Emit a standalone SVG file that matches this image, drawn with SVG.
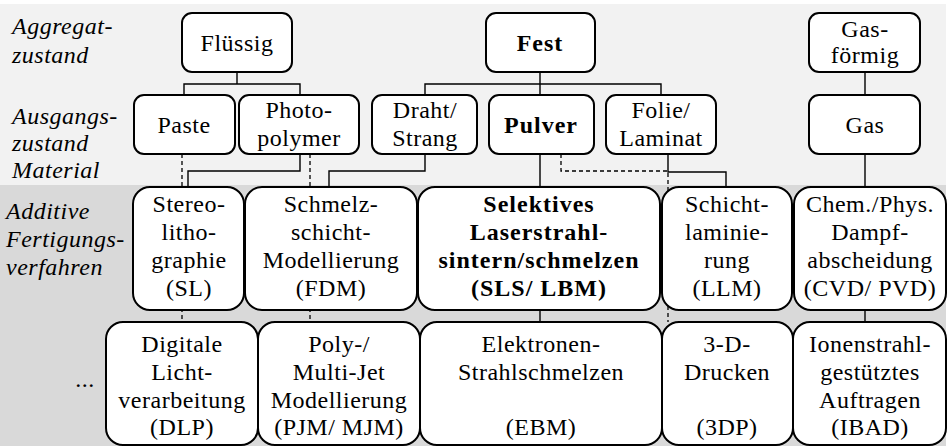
<svg xmlns="http://www.w3.org/2000/svg" width="949" height="446" viewBox="0 0 949 446" font-family="Liberation Serif" font-size="24">
<style>
text{font-family:"Liberation Serif",serif;font-size:24px;letter-spacing:0.5px}
.c{text-anchor:middle}
.b{font-weight:bold;letter-spacing:1px}
.lab{font-style:italic}
.box{fill:#fff;stroke:#000;stroke-width:2}
.ln{fill:none;stroke:#000;stroke-width:1.4}
.ds{fill:none;stroke:#000;stroke-width:1.3;stroke-dasharray:4 3}
</style>
<rect x="0" y="4" width="946" height="181" fill="#f2f2f2"/>
<rect x="0" y="185" width="946" height="261" fill="#d9d9d9"/>
<g id="labels">
<text class="lab" x="12" y="34">Aggregat-</text>
<text class="lab" x="12" y="63">zustand</text>
<text class="lab" x="12" y="124">Ausgangs-</text>
<text class="lab" x="12" y="151">zustand</text>
<text class="lab" x="12" y="178">Material</text>
<text class="lab" x="6" y="219">Additive</text>
<text class="lab" x="6" y="247">Fertigungs-</text>
<text class="lab" x="6" y="275">verfahren</text>
<text x="85" y="387" class="c">...</text>
</g>
<g id="connectors">
<path class="ln" d="M237 72V84M184 94V84H300V94"/>
<path class="ln" d="M540 72V322M425 94V84H661V94"/>
<path class="ln" d="M865 72V322"/>
<path class="ln" d="M300 154V171H188V187"/>
<path class="ln" d="M425 154V171H329V187"/>
<path class="ln" d="M668 154V172H726V187"/>
<path class="ds" d="M182 154V322"/>
<path class="ds" d="M310 154V322"/>
<path class="ds" d="M561 154V171H668V322"/>
</g>
<g id="n-fluessig"><rect class="box" x="182" y="13" width="110" height="59" rx="10"/><text class="c" x="237" y="51">Flüssig</text></g>
<g id="n-fest"><rect class="box" x="486" y="13" width="109" height="59" rx="10"/><text class="c b" x="540" y="51">Fest</text></g>
<g id="n-gasfoermig"><rect class="box" x="809" y="13" width="111" height="59" rx="10"/><text class="c" x="865" y="37">Gas-</text><text class="c" x="865" y="63">förmig</text></g>
<g id="n-paste"><rect class="box" x="134" y="95" width="101" height="59" rx="10"/><text class="c" x="184" y="133">Paste</text></g>
<g id="n-photopolymer"><rect class="box" x="239" y="95" width="120" height="59" rx="10"/><text class="c" x="299" y="118">Photo-</text><text class="c" x="299" y="146">polymer</text></g>
<g id="n-draht"><rect class="box" x="372" y="95" width="105" height="59" rx="10"/><text class="c" x="425" y="118">Draht/</text><text class="c" x="425" y="146">Strang</text></g>
<g id="n-pulver"><rect class="box" x="489" y="95" width="105" height="59" rx="10"/><text class="c b" x="541" y="133">Pulver</text></g>
<g id="n-folie"><rect class="box" x="606" y="95" width="110" height="59" rx="10"/><text class="c" x="661" y="118">Folie/</text><text class="c" x="661" y="146">Laminat</text></g>
<g id="n-gas"><rect class="box" x="809" y="95" width="111" height="59" rx="10"/><text class="c" x="865" y="133">Gas</text></g>
<g id="n-sl"><rect class="box" x="133" y="187" width="111" height="123" rx="17"/><text class="c" x="189" y="212">Stereo-</text><text class="c" x="189" y="240">litho-</text><text class="c" x="189" y="268">graphie</text><text class="c" x="189" y="296">(SL)</text></g>
<g id="n-fdm"><rect class="box" x="245" y="187" width="172" height="123" rx="17"/><text class="c" x="331" y="212">Schmelz-</text><text class="c" x="331" y="240">schicht-</text><text class="c" x="331" y="268">Modellierung</text><text class="c" x="331" y="296">(FDM)</text></g>
<g id="n-sls"><rect class="box" x="418" y="187" width="242" height="123" rx="17"/><text class="c b" x="539" y="212">Selektives</text><text class="c b" x="539" y="240">Laserstrahl-</text><text class="c b" x="539" y="268">sintern/schmelzen</text><text class="c b" x="539" y="296">(SLS/ LBM)</text></g>
<g id="n-llm"><rect class="box" x="662" y="187" width="130" height="123" rx="17"/><text class="c" x="727" y="212">Schicht-</text><text class="c" x="727" y="240">laminie-</text><text class="c" x="727" y="268">rung</text><text class="c" x="727" y="296">(LLM)</text></g>
<g id="n-cvd"><rect class="box" x="794" y="187" width="152" height="123" rx="17"/><text class="c" x="870" y="212">Chem./Phys.</text><text class="c" x="870" y="240">Dampf-</text><text class="c" x="870" y="268">abscheidung</text><text class="c" x="870" y="296">(CVD/ PVD)</text></g>
<g id="n-dlp"><rect class="box" x="106" y="322" width="152" height="123" rx="17"/><text class="c" x="182" y="352">Digitale</text><text class="c" x="182" y="380">Licht-</text><text class="c" x="182" y="408">verarbeitung</text><text class="c" x="182" y="435">(DLP)</text></g>
<g id="n-pjm"><rect class="box" x="258" y="322" width="162" height="123" rx="17"/><text class="c" x="339" y="352">Poly-/</text><text class="c" x="339" y="380">Multi-Jet</text><text class="c" x="339" y="408">Modellierung</text><text class="c" x="339" y="435">(PJM/ MJM)</text></g>
<g id="n-ebm"><rect class="box" x="420" y="322" width="242" height="123" rx="17"/><text class="c" x="541" y="352">Elektronen-</text><text class="c" x="541" y="380">Strahlschmelzen</text><text class="c" x="541" y="435">(EBM)</text></g>
<g id="n-3dp"><rect class="box" x="662" y="322" width="131" height="123" rx="17"/><text class="c" x="727" y="352">3-D-</text><text class="c" x="727" y="380">Drucken</text><text class="c" x="727" y="435">(3DP)</text></g>
<g id="n-ibad"><rect class="box" x="793" y="322" width="153" height="123" rx="17"/><text class="c" x="870" y="352">Ionenstrahl-</text><text class="c" x="870" y="380">gestütztes</text><text class="c" x="870" y="408">Auftragen</text><text class="c" x="870" y="435">(IBAD)</text></g>
</svg>
